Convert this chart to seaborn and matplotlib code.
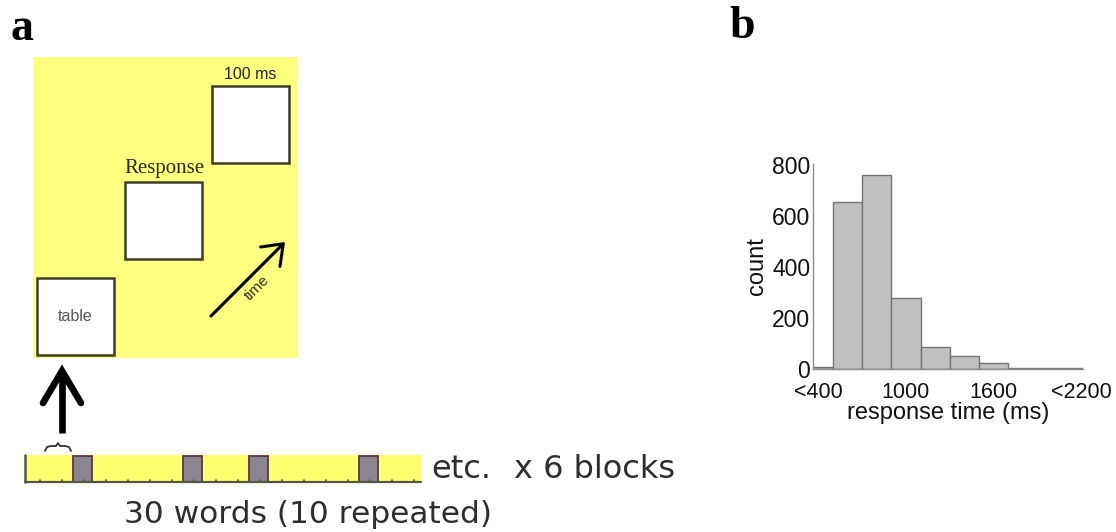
import numpy as np
import pandas as pd
import matplotlib
matplotlib.use("Agg")
import matplotlib.pyplot as plt
from matplotlib.patches import Rectangle
import seaborn as sns

# ---------------- data ----------------
trial_items = ["table", "Response", "100 ms"]
n_slots = 18
repeated_slots = [2, 7, 10, 15]
block_text = "x 6 blocks"
seq_text = "30 words (10 repeated)"

rt_bin_centers = [400, 600, 800, 1000, 1200, 1400, 1600, 1800, 2000, 2200]
rt_counts = [8, 655, 762, 279, 86, 50, 23, 5, 3, 2]
x_ticks = [400, 1000, 1600, 2200]
x_tick_labels = ["<400", "1000", "1600", "<2200"]
y_ticks = [0, 200, 400, 600, 800]

# ---------------- style ----------------
sns.set_style("white")
plt.rcParams["font.family"] = ["Liberation Sans", "DejaVu Sans"]

W, H = 1116, 532
fig = plt.figure(figsize=(W / 100, H / 100), dpi=100)

# ---------------- panel a (schematic, pixel coordinates) ----------------
axa = fig.add_axes([0, 0, 1, 1])
axa.set_xlim(0, W)
axa.set_ylim(H, 0)
axa.axis("off")

yellow = "#ffff80"
axa.add_patch(Rectangle((33, 57), 265, 301, fc=yellow, ec="none", zorder=1))

box = 77
bx0, by0, dx, dy = 37, 278, 87.5, -96
for i, lab in enumerate(trial_items):
    x = bx0 + i * dx
    y = by0 + i * dy
    axa.add_patch(Rectangle((x, y), box, box, fc="white", ec="#3c3c28", lw=1.8, zorder=2))
    if i == 0:
        axa.text(x + box / 2, y + box / 2, lab, ha="center", va="center",
                 fontsize=11.5, color="#555555", zorder=3)
    elif i == 1:
        axa.text(x + box / 2 + 1, y - 4, lab, ha="center", va="bottom",
                 fontsize=15, family="Liberation Serif", color="#2a2a10", zorder=3)
    else:
        axa.text(x + box / 2, y - 4, lab, ha="center", va="bottom",
                 fontsize=11.5, color="#222222", zorder=3)

# time arrow
axa.annotate("", xy=(287, 240), xytext=(209, 318),
             arrowprops=dict(arrowstyle="->,head_length=0.6,head_width=0.45",
                             lw=2.2, color="black", mutation_scale=22), zorder=4)
axa.text(257, 288, "time", rotation=45, ha="center", va="center",
         fontsize=11, color="#333322", zorder=4)

# big up arrow
ax_x = 62
axa.plot([ax_x, ax_x], [433, 374], color="black", lw=4.8, solid_capstyle="butt", zorder=4)
axa.plot([43, ax_x, 81], [403, 371, 403], color="black", lw=4.8,
         solid_capstyle="round", solid_joinstyle="miter", zorder=4)

# timeline
tl_x0, tl_x1, tl_top, tl_bot = 25, 421, 455, 482
slot0, slot_w, word_w = 29, 22, 19
axa.add_patch(Rectangle((tl_x0, tl_top), tl_x1 - tl_x0, tl_bot - tl_top,
                        fc="#ffff70", ec="none", zorder=1))
axa.plot([tl_x0, tl_x0], [tl_top, tl_bot], color="#555544", lw=1.8, zorder=3)
axa.plot([tl_x0, tl_x1], [tl_bot, tl_bot], color="#555544", lw=1.6, zorder=3)
for k in range(n_slots):
    xs = slot0 + slot_w * k + slot_w / 2
    axa.plot([xs, xs], [tl_bot, tl_bot - 2.5], color="#555544", lw=1.2, zorder=3)
for k in repeated_slots:
    axa.add_patch(Rectangle((slot0 + slot_w * k, tl_top + 1), word_w, tl_bot - tl_top - 1,
                            fc="#8a8590", ec="#5a3838", lw=1.3, zorder=2))

# brace over first word slot
bs = slot0 + slot_w * 1 - 6
bxs = np.array([0, 2, 6, 11, 13, 15, 20, 24, 26])
bys = np.array([451, 447, 446, 446, 443, 446, 446, 447, 451])
axa.plot(bs + bxs, bys, color="#333333", lw=1.3, zorder=3)

txt_col = "#2e2e2e"
axa.text(431, 478, "etc.", fontsize=23, family="DejaVu Sans", color=txt_col, va="baseline")
axa.text(514, 478, block_text, fontsize=23, family="DejaVu Sans", color=txt_col, va="baseline")
axa.text(124, 523, seq_text, fontsize=22.5, family="DejaVu Sans", color=txt_col, va="baseline")

# panel letters
axa.text(11, 40, "a", fontsize=33, fontweight="bold", family="Liberation Serif",
         color="black", va="baseline")
axa.text(729, 38, "b", fontsize=33, fontweight="bold", family="Liberation Serif",
         color="black", va="baseline")

# ---------------- panel b (histogram) ----------------
axb = fig.add_axes([813 / W, 1 - 369 / H, 270 / W, (369 - 164) / H])
axb.patch.set_alpha(0)
df = pd.DataFrame({"rt": rt_bin_centers, "n": rt_counts})
edges = [c - 100 for c in rt_bin_centers] + [rt_bin_centers[-1] + 100]
sns.histplot(data=df, x="rt", weights="n", bins=edges, ax=axb,
             color="#c0c0c0", edgecolor="#747474", linewidth=1.0, alpha=1)
axb.set_xlim(363, 2214)
axb.set_ylim(0, 805)
axb.set_xticks(x_ticks)
axb.set_xticklabels(x_tick_labels)
axb.set_yticks(y_ticks)
axb.tick_params(axis="both", length=0, colors="#111111")
axb.tick_params(axis="x", pad=9, labelsize=15.5)
axb.tick_params(axis="y", pad=2, labelsize=16.5)
for s in ["top", "right"]:
    axb.spines[s].set_visible(False)
for s in ["left", "bottom"]:
    axb.spines[s].set_color("#8c8c8c")
    axb.spines[s].set_linewidth(1.0)
axb.set_xlabel("response time (ms)", fontsize=17, labelpad=0, color="#111111")
axb.set_ylabel("count", fontsize=17, labelpad=3, color="#111111")

fig.savefig("out.png", dpi=100, facecolor="white")
